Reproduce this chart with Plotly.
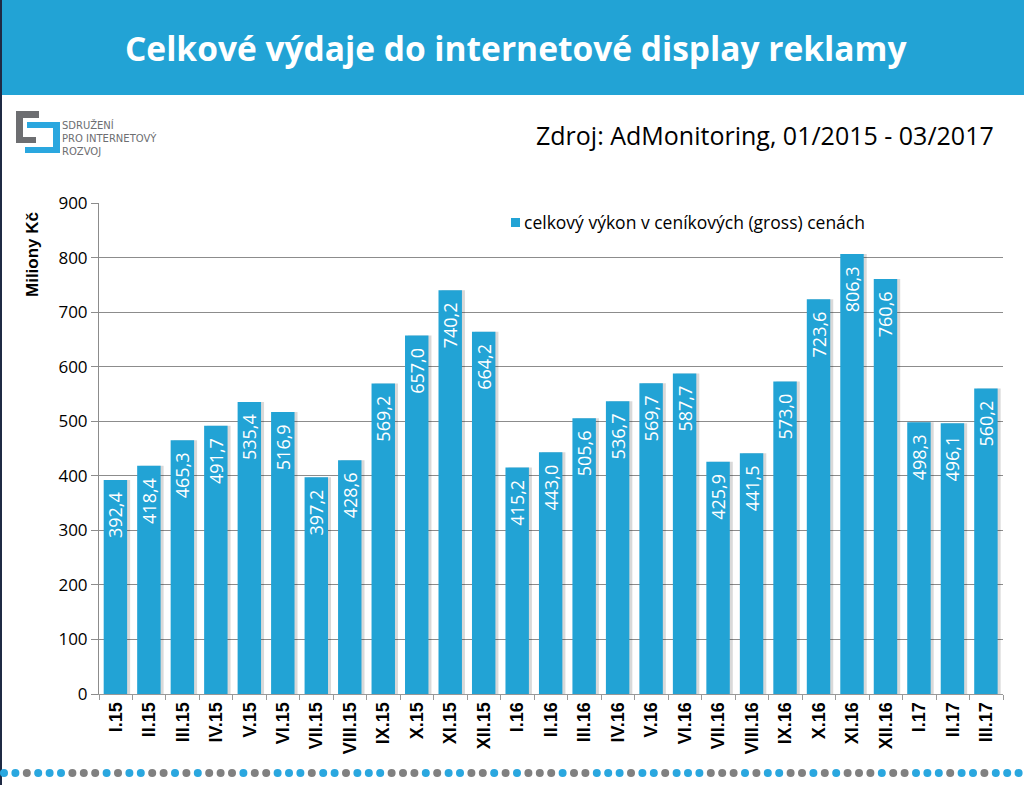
import plotly.graph_objects as go

categories = ["I.15", "II.15", "III.15", "IV.15", "V.15", "VI.15", "VII.15", "VIII.15", "IX.15",
              "X.15", "XI.15", "XII.15", "I.16", "II.16", "III.16", "IV.16", "V.16", "VI.16",
              "VII.16", "VIII.16", "IX.16", "X.16", "XI.16", "XII.16", "I.17", "II.17", "III.17"]
values = [392.4, 418.4, 465.3, 491.7, 535.4, 516.9, 397.2, 428.6, 569.2,
          657.0, 740.2, 664.2, 415.2, 443.0, 505.6, 536.7, 569.7, 587.7,
          425.9, 441.5, 573.0, 723.6, 806.3, 760.6, 498.3, 496.1, 560.2]
labels = [f"{v:.1f}".replace(".", ",") + "\u00a0\u00a0" for v in values]
y_ticks = [0, 100, 200, 300, 400, 500, 600, 700, 800, 900]
series_name = "celkový výkon v ceníkových (gross) cenách"

BLUE = "#22A3D5"
W, H = 1024, 785
L, R, T, B = 99, 21, 203, 91


def px(x):
    return (x - L) / (W - L - R)


def py(y):
    return (H - B - y) / (H - T - B)


fig = go.Figure()
# shadow
fig.add_trace(go.Bar(x=categories, y=values, width=0.7, offset=-0.27,
                     marker=dict(color="rgba(0,0,0,0.15)", line=dict(width=0)),
                     showlegend=False, hoverinfo="skip"))
fig.add_trace(go.Bar(x=categories, y=values, name=series_name, width=0.7, offset=-0.36,
                     marker=dict(color=BLUE, line=dict(width=0)),
                     text=labels, textposition="inside", insidetextanchor="end",
                     constraintext="none",
                     textangle=-90, textfont=dict(color="white", size=18, family="Open Sans"),
                     showlegend=False, hoverinfo="skip"))

fig.update_layout(
    width=W, height=H, barmode="overlay",
    margin=dict(l=L, r=R, t=T, b=B),
    paper_bgcolor="white", plot_bgcolor="white",
    font=dict(family="Open Sans", color="black"),
    showlegend=False,
    xaxis=dict(tickangle=-90, tickmode="array", tickvals=categories,
               ticktext=[f"<b>{c}</b>" for c in categories],
               tickfont=dict(size=18, family="Liberation Sans", color="black"),
               ticks="outside", tickson="boundaries", ticklen=5, tickcolor="#999",
               showline=True, linecolor="#999", showgrid=False),
    yaxis=dict(range=[0, 900], tickvals=y_ticks, tickfont=dict(size=17, family="Open Sans"),
               showgrid=True, gridcolor="#8C8C8C", gridwidth=1,
               showline=True, linecolor="#8C8C8C", ticks="outside", ticklen=7, tickcolor="#8C8C8C",
               zeroline=False),
)

# y axis title
fig.add_annotation(text="<b>Miliony Kč</b>", xref="paper", yref="paper", x=px(32), y=py(255),
                   textangle=-90, showarrow=False, xanchor="center", yanchor="middle",
                   font=dict(size=17, family="Liberation Sans", color="black"))

# legend (manual)
fig.add_shape(type="rect", xref="paper", yref="paper", x0=px(511), x1=px(520), y0=py(227), y1=py(218),
              fillcolor=BLUE, line=dict(width=0))
fig.add_annotation(text=series_name, xref="paper", yref="paper", x=px(522), y=py(222),
                   xanchor="left", yanchor="middle", showarrow=False,
                   font=dict(size=17.5, family="Open Sans", color="black"))

# title banner
fig.add_shape(type="rect", xref="paper", yref="paper", x0=px(0), x1=px(W),
              y0=py(95), y1=py(0), fillcolor=BLUE, line=dict(width=0), layer="below")
fig.add_annotation(text="<b>Celkové výdaje do internetové display reklamy</b>",
                   xref="paper", yref="paper", x=px(516), y=py(48), xanchor="center", yanchor="middle",
                   showarrow=False, font=dict(size=33.5, color="white", family="Open Sans"))
# left frame line
fig.add_shape(type="line", xref="paper", yref="paper", x0=px(1), x1=px(1),
              y0=py(H), y1=py(0), line=dict(color="#1F2A44", width=2))

# source
fig.add_annotation(text="Zdroj: AdMonitoring, 01/2015 - 03/2017", xref="paper", yref="paper",
                   x=px(996), y=py(135), xanchor="right", yanchor="middle",
                   showarrow=False, font=dict(size=25, family="Open Sans", color="black"))

# logo
logo_gray = "#6D6E71"
logo_blue = "#2AA7DF"
rects = [
    (16, 111, 39, 118, logo_gray), (16, 111, 23, 143, logo_gray), (16, 137, 36, 143, logo_gray),
    (27, 122, 60, 128, logo_blue), (53, 122, 60, 153, logo_blue), (25, 147, 60, 153, logo_blue),
]
for x0, y0, x1, y1, c in rects:
    fig.add_shape(type="rect", xref="paper", yref="paper", x0=px(x0), x1=px(x1), y0=py(y1), y1=py(y0),
                  fillcolor=c, line=dict(width=0))
fig.add_annotation(text="SDRUŽENÍ<br>PRO INTERNETOVÝ<br>ROZVOJ", xref="paper", yref="paper",
                   x=px(61), y=py(138), xanchor="left", yanchor="middle", align="left",
                   showarrow=False, borderpad=0,
                   font=dict(size=10, family="DejaVu Sans", color="#6D6E71"))

# dotted footer
pattern = [1, 1, 0, 1, 1, 1, 0, 0, 0, 1, 0, 1, 1, 0, 0, 1, 0, 1, 0, 0, 0, 1, 0, 0, 1, 1, 1, 0]
n = 0
x = 4.0
while x < W:
    c = logo_blue if pattern[n % len(pattern)] else "#808080"
    fig.add_shape(type="circle", xref="paper", yref="paper",
                  x0=px(x - 4), x1=px(x + 4), y0=py(777), y1=py(769),
                  fillcolor=c, line=dict(width=0))
    x += 11.4
    n += 1

fig.write_html("out.html", config={"displayModeBar": False},
               post_script="document.body.style.margin='0';")
